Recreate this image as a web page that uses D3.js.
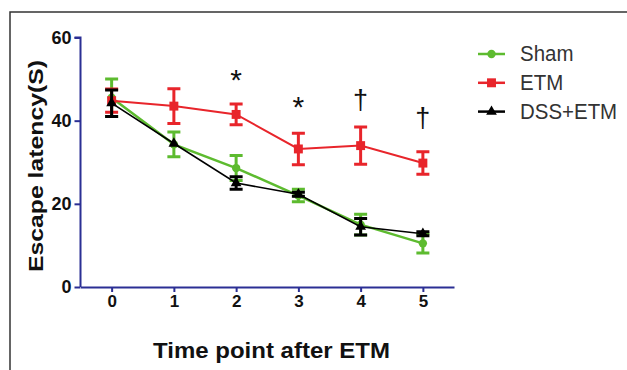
<!DOCTYPE html>
<html><head><meta charset="utf-8">
<script src="https://cdn.jsdelivr.net/npm/d3@7"></script>
<style>body{margin:0;background:#fff;}svg{display:block;}</style>
</head><body>
<svg id="c" width="627" height="370"></svg>
<script>
const timePoints = [0, 1, 2, 3, 4, 5];
const shamMean = [45.5, 34.3, 28.6, 22.0, 15.0, 10.5];
const shamErr  = [4.5, 3.0, 3.0, 1.5, 2.5, 2.3];
const etmMean  = [44.8, 43.5, 41.5, 33.2, 34.0, 29.8];
const etmErr   = [2.8, 4.2, 2.5, 3.8, 4.5, 2.7];
const dssMean  = [44.2, 34.5, 25.0, 22.3, 14.5, 12.8];
const dssErr   = [3.2, 0.0, 1.5, 0.5, 2.0, 0.5];
const yTicks = [0, 20, 40, 60];
const sigLabels = ["*", "*", "\u2020", "\u2020"];
const sigTimes  = [2, 3, 4, 5];
const sigValues = [47.4, 40.9, 42.8, 38.4];
const seriesNames = ["Sham", "ETM", "DSS+ETM"];

const svg = d3.select("#c");
const axisColor = "#2b2f94";
const FONT = "Liberation Sans, Arial, sans-serif";

// frame
svg.append("path").attr("d","M10,370 L10,12 L627,12").attr("fill","none").attr("stroke","#333").attr("stroke-width",1.5);

const x = d3.scaleLinear().domain([-0.5, 5.5]).range([80.5, 454]);
const y = d3.scaleLinear().domain([0, 60]).range([287, 37.5]);

const series = [
  {name: seriesNames[0], mean: shamMean, err: shamErr, color: "#5dbb2f", lw: 2.5, shape: d3.symbolCircle, size: 55},
  {name: seriesNames[1], mean: etmMean, err: etmErr, color: "#e8252b", lw: 2, shape: d3.symbolSquare, size: 80},
  {name: seriesNames[2], mean: dssMean, err: dssErr, color: "#000000", lw: 1.6, shape: d3.symbolTriangle, size: 50}
];

// axes
const yAxis = d3.axisLeft(y).tickValues(yTicks).tickFormat(d3.format("d")).tickSize(6).tickPadding(3);
const gy = svg.append("g").attr("transform","translate(80.5,0)").call(yAxis);
gy.select(".domain").attr("stroke", axisColor).attr("stroke-width", 2).attr("d","M-6,37.5H0V287");
gy.selectAll(".tick line").attr("stroke", axisColor).attr("stroke-width", 2);
gy.selectAll(".tick text").attr("fill","#111").style("font-family",FONT).style("font-weight","bold").style("font-size","18px");

const xAxis = d3.axisBottom(x).tickValues(timePoints).tickFormat(d3.format("d")).tickSize(5).tickPadding(3).tickSizeOuter(0);
const gx = svg.append("g").attr("transform","translate(0,287)").call(xAxis);
gx.select(".domain").attr("stroke", axisColor).attr("stroke-width", 2);
gx.selectAll(".tick line").attr("stroke", axisColor).attr("stroke-width", 2);
gx.selectAll(".tick text").attr("fill","#111").style("font-family",FONT).style("font-weight","bold").style("font-size","17px");

// series
const line = d3.line().x((d,i)=>x(timePoints[i])).y(d=>y(d));
series.forEach(s => {
  const g = svg.append("g");
  g.append("path").datum(s.mean).attr("d", line).attr("fill","none").attr("stroke", s.color).attr("stroke-width", s.lw);
  const eb = g.selectAll(".eb").data(s.mean.map((m,i)=>({m, e: s.err[i], t: timePoints[i]}))).enter().append("g");
  eb.filter(d=>d.e>0).append("path")
    .attr("d", d => {
      const cx = x(d.t), y1 = y(d.m + d.e), y2 = y(d.m - d.e);
      return `M${cx},${y1}V${y2}`;
    }).attr("stroke", s.color).attr("stroke-width", 3);
  eb.filter(d=>d.e>0).append("path")
    .attr("d", d => {
      const cx = x(d.t), y1 = y(d.m + d.e), y2 = y(d.m - d.e);
      return `M${cx-6.5},${y1}H${cx+6.5}M${cx-6.5},${y2}H${cx+6.5}`;
    }).attr("stroke", s.color).attr("stroke-width", 3);
  eb.append("path").attr("d", d3.symbol().type(s.shape).size(s.size))
    .attr("transform", d => `translate(${x(d.t)},${y(d.m)})`).attr("fill", s.color);
});

// significance marks
svg.selectAll(".sig").data(sigLabels).enter().append("text")
  .attr("x", (d,i)=>x(sigTimes[i])).attr("y", (d,i)=>y(sigValues[i]))
  .attr("text-anchor","middle")
  .style("font-family",FONT).style("font-size", d => d === "*" ? "30px" : "27px").attr("fill","#111")
  .text(d=>d);

// axis titles
svg.append("text").attr("transform","translate(43,166) rotate(-90)").attr("text-anchor","middle")
  .attr("textLength", 212).attr("lengthAdjust","spacingAndGlyphs")
  .style("font-family",FONT).style("font-weight","bold").style("font-size","21px").attr("fill","#111")
  .text("Escape latency(S)");
svg.append("text").attr("x", 271.5).attr("y", 358).attr("text-anchor","middle")
  .attr("textLength", 237).attr("lengthAdjust","spacingAndGlyphs")
  .style("font-family",FONT).style("font-weight","bold").style("font-size","22px").attr("fill","#111")
  .text("Time point after ETM");

// legend
const lg = svg.append("g");
series.forEach((s, i) => {
  const ly = 54 + i * 28.8;
  lg.append("line").attr("x1", 478).attr("x2", 505).attr("y1", ly).attr("y2", ly).attr("stroke", s.color).attr("stroke-width", 2.5);
  lg.append("path").attr("d", d3.symbol().type(s.shape).size(s.size)).attr("transform", `translate(491.5,${ly})`).attr("fill", s.color);
  lg.append("text").attr("x", 520).attr("y", ly).attr("dominant-baseline","central")
    .attr("transform", `translate(520,${ly}) scale(0.93,1) translate(-520,${-ly})`)
    .style("font-family",FONT).style("font-size","22px").attr("fill","#333")
    .text(s.name);
});
</script>
</body></html>
